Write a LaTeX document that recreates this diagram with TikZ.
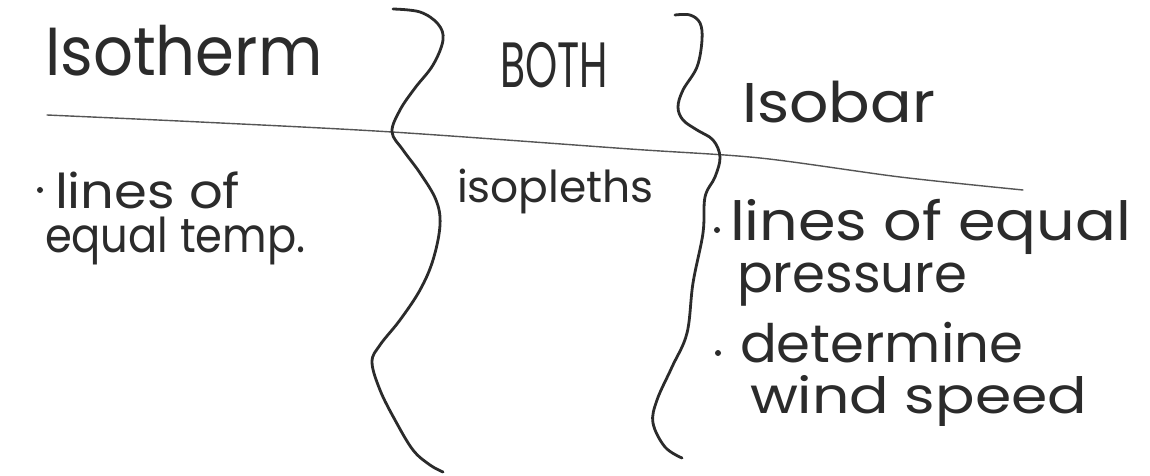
\documentclass[tikz,border=0pt]{standalone}
\usepackage{fontspec}
\setmainfont{Poppins}
\definecolor{ink}{HTML}{2B2B2B}
\definecolor{rule}{HTML}{555555}
\tikzset{
  hand/.style={anchor=base west, inner sep=0pt, outer sep=0pt, text=ink},
  brace/.style={draw=ink, line width=2.8pt, line cap=round, line join=round},
  divider/.style={draw=rule, line width=1.4pt, line cap=round},
  bullet/.style={circle, fill=ink, inner sep=0pt, minimum size=6pt}
}
\newcommand{\fs}[1]{\fontsize{#1}{#1}\selectfont}
\begin{document}
\begin{tikzpicture}[x=1pt,y=-1pt]
\useasboundingbox[fill=white] (0,0) rectangle (1150,476);

% headings
\node[hand, font=\fs{68}, xscale=0.92] (isotherm) at (45,76) {Isotherm};
\node[hand, font=\fs{64}, xscale=0.64] (both) at (500,88) {BOTH};
\node[hand, font=\fs{56}, xscale=1.1] (isobar) at (742,122) {Isobar};

% dividing rule under the headings
\draw[divider] plot[smooth, tension=0.5] coordinates
  {(47,115) (200,122) (392,132) (630,149) (760,158) (900,177) (1023,190)};

% left brace
\draw[brace] plot[smooth, tension=0.6] coordinates
  {(393,9) (420,12) (438,24) (443,40) (433,65) (415,88) (400,110) (392,132)
   (403,150) (420,173) (436,200) (440,225) (433,260) (420,290) (400,320)
   (380,345) (372,362) (380,390) (395,420) (413,450) (430,465) (443,472)};

% right brace
\draw[brace] plot[smooth, tension=0.6] coordinates
  {(675,15) (690,15) (700,23) (702,40) (697,67) (683,90) (678,107) (683,120)
   (697,130) (713,140) (720,157) (715,177) (705,197) (703,233) (693,283)
   (687,333) (672,367) (657,400) (653,423) (665,447) (682,458)};

% isotherm column
\node[bullet] (b1) at (40,190) {};
\node[hand, font=\fs{48}, xscale=1.1] (l1) at (55,208) {lines of};
\node[hand, font=\fs{48}, xscale=0.9] (l2) at (45,252) {equal temp.};

% shared column
\node[hand, font=\fs{44}, xscale=1.0] (isopleths) at (457,202) {isopleths};

% isobar column
\node[bullet] (b2) at (717,230) {};
\node[hand, font=\fs{54}, xscale=1.12] (r1) at (730,240) {lines of equal};
\node[hand, font=\fs{53}, xscale=1.0] (r2) at (737,292) {pressure};
\node[bullet] (b3) at (718,353) {};
\node[hand, font=\fs{53}, xscale=1.03] (r3) at (740,362) {determine};
\node[hand, font=\fs{50}, xscale=1.17] (r4) at (750,413) {wind speed};
\end{tikzpicture}
\end{document}
